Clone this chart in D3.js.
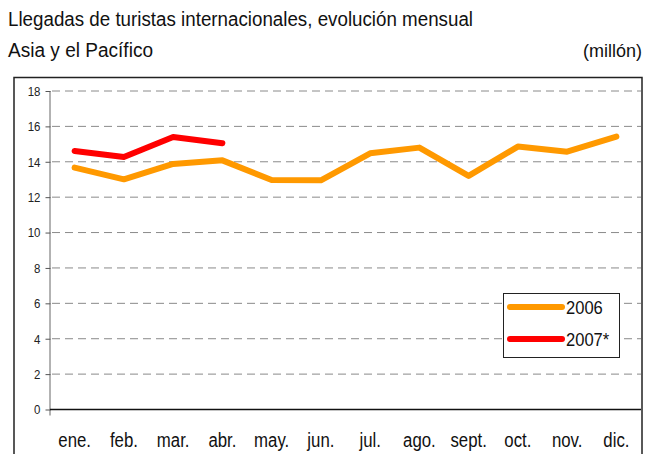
<!DOCTYPE html>
<html>
<head>
<meta charset="utf-8">
<script src="https://cdn.jsdelivr.net/npm/d3@7"></script>
<style>
  body { margin: 0; background: #fff; }
  svg { display: block; font-family: "Liberation Sans", Arial, sans-serif; }
</style>
</head>
<body>
<div id="chart"></div>
<script>
const months = ['ene.', 'feb.', 'mar.', 'abr.', 'may.', 'jun.', 'jul.', 'ago.', 'sept.', 'oct.', 'nov.', 'dic.'];
const values2006 = [13.67, 13.01, 13.88, 14.08, 12.97, 12.95, 14.48, 14.8, 13.2, 14.86, 14.57, 15.42];
const values2007 = [14.61, 14.27, 15.4, 15.05];
const yTicks = [0, 2, 4, 6, 8, 10, 12, 14, 16, 18];
const seriesNames = ['2006', '2007*'];
const seriesColors = ['#FF9900', '#FF0000'];

const W = 645, H = 454;
const svg = d3.select('#chart').append('svg')
  .attr('width', W)
  .attr('height', H);

// titles (narrow look: taller glyphs squeezed to the original width)
function title(x, y, str, len, anchor) {
  svg.append('text')
    .attr('x', x).attr('y', y)
    .attr('text-anchor', anchor || 'start')
    .attr('font-size', '20px')
    .attr('fill', '#111')
    .attr('textLength', len)
    .attr('lengthAdjust', 'spacingAndGlyphs')
    .text(str);
}
title(8, 25.5, 'Llegadas de turistas internacionales, evolución mensual', 465);
title(8, 57, 'Asia y el Pacífico', 145);
svg.append('text')
  .attr('x', 642).attr('y', 57)
  .attr('text-anchor', 'end')
  .attr('font-size', '18px')
  .attr('fill', '#111')
  .text('(millón)');

// outer box
svg.append('rect')
  .attr('x', 14).attr('y', 77.5)
  .attr('width', 628).attr('height', 400)
  .attr('fill', 'none')
  .attr('stroke', '#222')
  .attr('stroke-width', 1.5);

const x = d3.scaleBand().domain(months).range([50, 641]);
const y = d3.scaleLinear().domain([0, 18]).range([409.5, 91]);

// grid
svg.append('g')
  .selectAll('line')
  .data(yTicks.filter(d => d > 0))
  .enter()
  .append('line')
  .attr('x1', 52).attr('x2', 641)
  .attr('y1', d => y(d)).attr('y2', d => y(d))
  .attr('stroke', '#8a8a8a')
  .attr('stroke-width', 1)
  .attr('stroke-dasharray', '8,5');

// y axis
const yAxis = svg.append('g')
  .attr('transform', 'translate(50.5,0)')
  .call(d3.axisLeft(y).tickValues(yTicks).tickSize(5).tickPadding(4).tickFormat(d3.format('d')));
yAxis.select('.domain').attr('stroke', '#666').attr('d', `M-0.5,${y(18)}V${y(0) + 6}`);
yAxis.selectAll('.tick line').attr('stroke', '#555');
yAxis.selectAll('.tick text')
  .attr('font-size', '13.5px')
  .attr('fill', '#222')
  .attr('font-family', 'inherit')
  .attr('transform', 'translate(-10,0) scale(0.85,1)')
  .attr('x', 0)
  .attr('text-anchor', 'end');

// x axis
const xAxis = svg.append('g')
  .attr('transform', `translate(0,${y(0)})`)
  .call(d3.axisBottom(x).tickSize(0));
xAxis.select('.domain').attr('stroke', '#111').attr('stroke-width', 1.5).attr('d', `M50,0H641`);
xAxis.selectAll('.tick text')
  .attr('font-size', '21px')
  .attr('fill', '#111')
  .attr('font-family', 'inherit')
  .attr('dy', null)
  .attr('y', 37.5)
  .attr('transform', 'scale(0.8,1)');

const line = d3.line()
  .x((d, i) => x(months[i]) + x.bandwidth() / 2)
  .y(d => y(d));

[values2006, values2007].forEach((vals, k) => {
  svg.append('path')
    .datum(vals)
    .attr('d', line)
    .attr('fill', 'none')
    .attr('stroke', seriesColors[k])
    .attr('stroke-width', 6)
    .attr('stroke-linecap', 'round')
    .attr('stroke-linejoin', 'round');
});

// legend
const legend = svg.append('g');
legend.append('rect')
  .attr('x', 503.5).attr('y', 293.5)
  .attr('width', 116).attr('height', 64)
  .attr('fill', '#fff')
  .attr('stroke', '#222')
  .attr('stroke-width', 1);
seriesNames.forEach((name, k) => {
  const ly = 307 + k * 32;
  legend.append('line')
    .attr('x1', 510).attr('x2', 562)
    .attr('y1', ly).attr('y2', ly)
    .attr('stroke', seriesColors[k])
    .attr('stroke-width', 6)
    .attr('stroke-linecap', 'round');
  legend.append('text')
    .attr('x', 566).attr('y', ly + 7)
    .attr('font-size', '18px')
    .attr('fill', '#111')
    .attr('transform', `translate(566,0) scale(0.92,1) translate(-566,0)`)
    .text(name);
});
</script>
</body>
</html>
